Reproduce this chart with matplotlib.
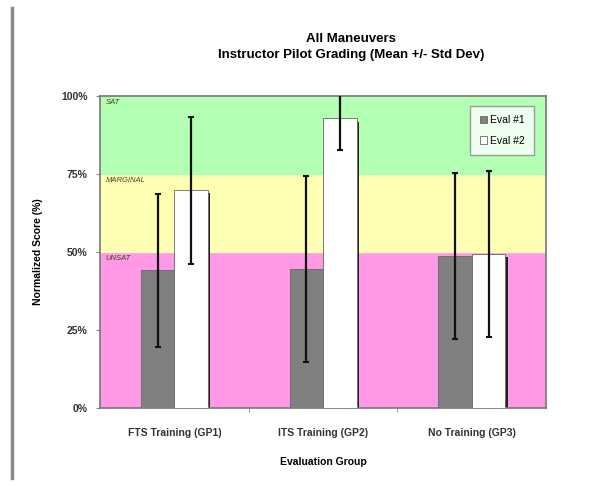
import numpy as np
import matplotlib.pyplot as plt

plt.rcParams['font.family'] = ['Liberation Sans', 'DejaVu Sans']

groups = ['FTS Training (GP1)', 'ITS Training (GP2)', 'No Training (GP3)']
eval1_mean = [44.2, 44.5, 48.7]
eval1_sd = [24.5, 29.8, 26.7]
eval2_mean = [69.8, 92.8, 49.4]
eval2_sd = [23.6, 10.1, 26.7]
zones = [(0, 50, '#ff99e6', 'UNSAT'), (50, 75, '#ffffb3', 'MARGINAL'), (75, 100, '#b3ffb3', 'SAT')]

fig = plt.figure(figsize=(5.95, 4.87), dpi=100)
ax = fig.add_axes([0.168, 0.162, 0.75, 0.641])

# background grading zones
for lo, hi, col, name in zones:
    ax.axhspan(lo, hi, color=col, zorder=0)
    ax.text(-0.46, hi - 1.0, name, fontsize=5.5, style='italic', color='#444422',
            va='top', ha='left', zorder=1)

x = np.arange(len(groups))
w = 0.225

# little drop shadow to the right of each bar
for xs, m in [(x - w / 2, eval1_mean), (x + w / 2, eval2_mean)]:
    ax.bar(xs + 0.015, np.array(m) - 1, w, bottom=0, color='#222222', zorder=2)

ax.bar(x - w / 2, eval1_mean, w, color='#808080', edgecolor='#666666', lw=0.6,
       label='Eval #1', zorder=3)
ax.bar(x + w / 2, eval2_mean, w, color='white', edgecolor='#666666', lw=0.6,
       label='Eval #2', zorder=3)
ax.errorbar(x - w / 2, eval1_mean, yerr=eval1_sd, fmt='none', ecolor='#111111',
            elinewidth=1.6, capsize=2, capthick=1.5, zorder=4)
ax.errorbar(x + w / 2, eval2_mean, yerr=eval2_sd, fmt='none', ecolor='#111111',
            elinewidth=1.6, capsize=2, capthick=1.5, zorder=4)

ax.set_xlim(-0.5, 2.5)
ax.set_ylim(0, 100)
ax.set_yticks([0, 25, 50, 75, 100])
ax.set_yticklabels(['0%', '25%', '50%', '75%', '100%'], fontsize=7.5, fontweight='bold',
                   color='#333333')
ax.set_xticks(x)
ax.set_xticklabels(groups, fontsize=7.5, fontweight='bold', color='#333333')
ax.set_xticks([0.5, 1.5], minor=True)
ax.tick_params(axis='x', which='major', length=0, pad=14)
ax.tick_params(axis='x', which='minor', length=3, color='#888888')
ax.tick_params(axis='y', length=3, color='#888888', pad=6)
for s in ax.spines.values():
    s.set_color('#777777')
    s.set_linewidth(1.2)

ax.set_ylabel('Normalized Score (%)', fontsize=7.5, fontweight='bold', labelpad=13)
ax.set_xlabel('Evaluation Group', fontsize=7.5, fontweight='bold', labelpad=14)
fig.text(0.59, 0.904, 'All Maneuvers\nInstructor Pilot Grading (Mean +/- Std Dev)',
         ha='center', va='center', fontsize=9.5, fontweight='bold', linespacing=1.45)

leg = ax.legend(loc='upper right', bbox_to_anchor=(0.985, 0.985), fontsize=7.5,
                frameon=True, fancybox=False, edgecolor='#888888', handlelength=0.7,
                handleheight=0.7, borderpad=0.9, labelspacing=1.0, handletextpad=0.3)
leg.get_frame().set_linewidth(1.0)

# grey border line on the left of the picture
fig.add_artist(plt.Line2D([0.02, 0.02], [0.018, 0.984], color='#888888', lw=2.5))

fig.savefig('out.png', dpi=100)
